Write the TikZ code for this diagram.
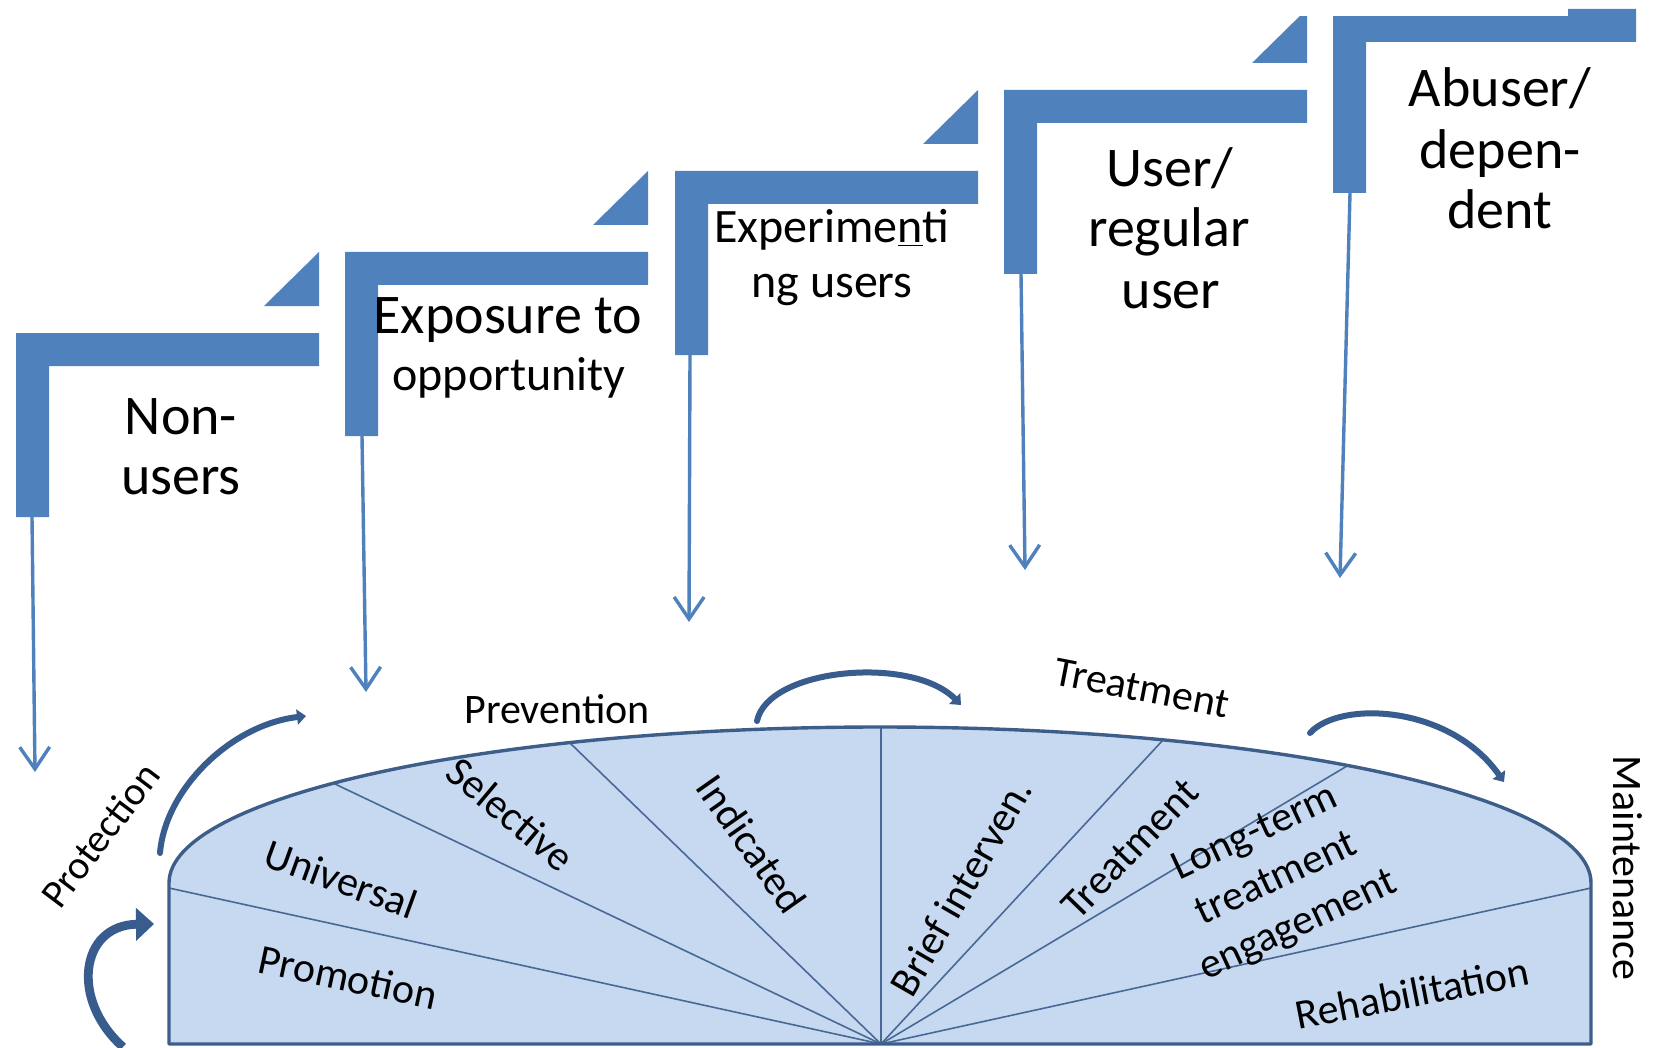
\documentclass[tikz,border=0pt]{standalone}
\usepackage{fontspec}
\setmainfont{Carlito}
\usetikzlibrary{arrows.meta}
\definecolor{stepblue}{RGB}{79,129,189}
\definecolor{domefill}{RGB}{199,217,240}
\definecolor{domeline}{RGB}{62,94,138}
\definecolor{spokeblue}{RGB}{72,104,150}
\definecolor{curveblue}{RGB}{56,92,142}
\begin{document}
\begin{tikzpicture}[x=0.5pt,y=-0.5pt,
  stepshape/.style={fill=stepblue},
  downarrow/.style={draw=stepblue,line width=1.7pt,-{Straight Barb[length=11pt,width=15pt]}},
  bigtxt/.style={font=\fontsize{28}{30}\selectfont,inner sep=0pt,anchor=base},
  midtxt/.style={font=\fontsize{24}{28}\selectfont,inner sep=0pt,anchor=base},
  domelab/.style={font=\fontsize{21}{25.5}\selectfont,inner sep=0pt},
  curvearrow/.style={draw=curveblue,line width=3pt,line cap=round,-{Triangle[length=4.5pt,width=7.5pt]}},
  spoke/.style={draw=spokeblue,line width=0.8pt},
]
\useasboundingbox (0,0) rectangle (1654,1048);
\fill[white] (0,0) rectangle (1654,1048);

% ---- steps ----
\foreach \L/\T in {16/333,345/252,675/171,1004/90,1333/9}{
  \fill[stepshape] (\L,\T) -- (\L+303,\T) -- (\L+303,\T+33) -- (\L+33,\T+33)
     -- (\L+33,\T+184) -- (\L,\T+184) -- cycle;
}
\foreach \L/\T in {16/333,345/252,675/171,1004/90}{
  \fill[stepshape] (\L+248,\T-27) -- (\L+303,\T-27) -- (\L+303,\T-81) -- cycle;
}
\fill[white] (0,0) rectangle (1568,16);

% ---- step labels ----
\node[bigtxt] (na) at (181,434) {Non-};
\node[bigtxt] (nb) at (181,494) {users};
\node[bigtxt] (ea) at (508,333) {Exposure to};
\node[midtxt] (eb) at (509,390) {opportunity};
\node[midtxt] (xa) at (832,243) {Experime\underline{n}ti};
\node[midtxt] (xb) at (832,298) {ng users};
\node[bigtxt] (ua) at (1170,187) {User/};
\node[bigtxt] (ub) at (1169,247) {regular};
\node[bigtxt] (uc) at (1171,308) {user};
\node[bigtxt] (aa) at (1500,107) {Abuser/};
\node[bigtxt] (ab) at (1500,169) {depen-};
\node[bigtxt] (ac) at (1500,229) {dent};

% ---- down arrows ----
\coordinate (s1) at (32,517);   \coordinate (t1) at (35,772);
\coordinate (s2) at (362,436);  \coordinate (t2) at (366,692);
\coordinate (s3) at (690,355);  \coordinate (t3) at (689,622);
\coordinate (s4) at (1021,274); \coordinate (t4) at (1025,570);
\coordinate (s5) at (1350,193); \coordinate (t5) at (1340,578);
\foreach \i in {1,...,5}{\draw[downarrow] (s\i) -- (t\i);}

% ---- dome ----
\coordinate (c) at (881,1044);
\fill[domefill] (169,1044) -- (169,883) .. controls (169,796.8) and (487.3,727) .. (880,727)
   .. controls (1272.7,727) and (1591,796.8) .. (1591,883) -- (1591,1044) -- cycle;
\coordinate (p1) at (169,888);
\coordinate (p2) at (335,784);
\coordinate (p3) at (570,743);
\coordinate (p4) at (881,727);
\coordinate (p5) at (1163,740);
\coordinate (p6) at (1347,766);
\coordinate (p7) at (1591,888);
\foreach \i in {1,...,7}{\draw[spoke] (c) -- (p\i);}
\draw[domeline,line width=1.7pt,line join=round] (169,1044) -- (169,883) .. controls (169,796.8) and (487.3,727) .. (880,727)
   .. controls (1272.7,727) and (1591,796.8) .. (1591,883) -- (1591,1044) -- cycle;

% ---- curved arrows ----
\coordinate (a1s) at (123,1047); \coordinate (a1e) at (154,924);
\coordinate (a2s) at (160,853);  \coordinate (a2e) at (306,716);
\coordinate (a3s) at (757,721);  \coordinate (a3e) at (961,705);
\coordinate (a4s) at (1310,733); \coordinate (a4e) at (1504,782);
\draw[curvearrow,line width=4.4pt,line cap=butt,-{Triangle[length=9pt,width=16pt]}] (a1s) .. controls (70,1000) and (80,925) .. (a1e);
\draw[curvearrow] (a2s) .. controls (165,790) and (230,725) .. (a2e);
\draw[curvearrow] (a3s) .. controls (768,668) and (912,655) .. (a3e);
\draw[curvearrow] (a4s) .. controls (1340,700) and (1450,705) .. (a4e);

% ---- dome labels ----
\node[domelab,anchor=base] (prev) at (557,723) {Prevention};
\node[domelab,rotate=-11] (treat) at (1142,688) {Treatment};
\node[domelab,font=\fontsize{20}{24}\selectfont,rotate=53] (prot) at (100,835) {Protection};
\node[domelab,rotate=-90] (maint) at (1628,868) {Maintenance};
\node[domelab,rotate=-20] (univ) at (341,879) {Universal};
\node[domelab,rotate=-12] (promo) at (348,977) {Promotion};
\node[domelab,rotate=-40] (sel) at (511,814) {Selective};
\node[domelab,rotate=-55] (ind) at (752,844) {Indicated};
\node[domelab,rotate=60] (brief) at (961,887) {Brief interven.};
\node[domelab,rotate=46] (treat2) at (1130,849) {Treatment};
\node[domelab,rotate=25,align=center] (lt) at (1277,880) {Long-term\\treatment\\engagement};
\node[domelab,rotate=11] (rehab) at (1412,993) {Rehabilitation};
\end{tikzpicture}
\end{document}
